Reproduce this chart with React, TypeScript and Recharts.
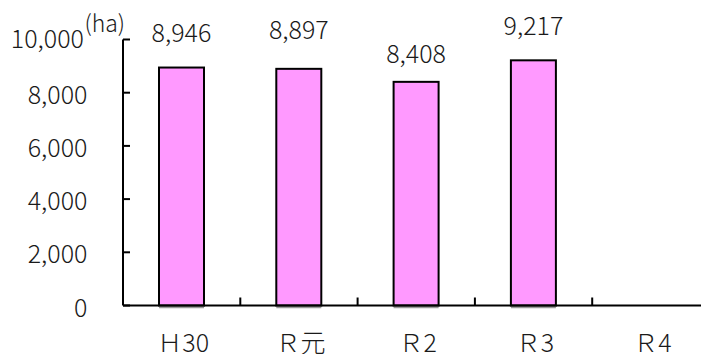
import React from "react";
import { BarChart, Bar, XAxis, YAxis, LabelList } from "recharts";

// Fiscal years (Heisei 30, Reiwa 1–4)
const years = ["Ｈ30", "Ｒ元", "Ｒ2", "Ｒ3", "Ｒ4"];
// Planted area in hectares (R4 not yet reported)
const area: (number | null)[] = [8946, 8897, 8408, 9217, null];
// Value axis ticks
const yTicks = [0, 2000, 4000, 6000, 8000, 10000];
const unitLabel = "(ha)";

// Layout
const CHART_W = 710;
const CHART_H = 354;
const Y_AXIS_W = 123;
const PLOT_TOP = 39.5;
const X_AXIS_H = 48.5;
const RIGHT = 0.5;
const BAND = (CHART_W - Y_AXIS_W - RIGHT) / years.length;
// how far each value label sits above its bar (label baseline to bar top)
const labelLift = [25.5, 30, 18.5, 25.5, 25.5];

const FONT = "'Noto Sans CJK JP', 'Noto Sans', sans-serif";
const TEXT = "#1a1a1a";
const FS = 25;

const data = years.map((year, i) => ({ year, area: area[i] }));

const fmt = (v: number) => v.toLocaleString("en-US");

const YTick = (props: any) => {
  const { y, payload } = props;
  const v = payload.value as number;
  const isTop = v === yTicks[yTicks.length - 1];
  const axisX = Y_AXIS_W;
  return (
    <g>
      <line x1={axisX} x2={axisX + 7} y1={y} y2={y} stroke="#000" strokeWidth={2} />
      <text
        x={isTop ? 84 : 87.5}
        y={isTop ? y - 3 : y}
        textAnchor="end"
        dominantBaseline="central"
        fontFamily={FONT}
        fontSize={FS}
        fontWeight={300}
        fill={TEXT}
      >
        {fmt(v)}
      </text>
      {isTop && (
        <text x={84.5} y={32} fontFamily={FONT} fontSize={23} fontWeight={300} fill={TEXT}>
          {unitLabel}
        </text>
      )}
    </g>
  );
};

const XTick = (props: any) => {
  const { x, payload } = props;
  const axisY = CHART_H - X_AXIS_H;
  const edge = x + BAND / 2;
  return (
    <g>
      <line x1={edge} x2={edge} y1={axisY} y2={axisY - 8} stroke="#000" strokeWidth={2} />
      <text
        x={x + 1.5}
        y={axisY + 46.5}
        textAnchor="middle"
        fontFamily={FONT}
        fontSize={FS}
        fontWeight={300}
        fill={TEXT}
      >
        {payload.value}
      </text>
    </g>
  );
};

const BarShape = (props: any) => {
  const { x, y, width, height } = props;
  if (!height || height <= 0) return null;
  return (
    <g>
      <line x1={x} x2={x + width} y1={y + height + 2} y2={y + height + 2} stroke="#9a9a9a" strokeWidth={1.5} />
      <rect x={x} y={y} width={width} height={height} fill="#FF99FF" stroke="#000" strokeWidth={2} />
    </g>
  );
};

const ValueLabel = (props: any) => {
  const { x, y, width, value, index } = props;
  if (value == null) return null;
  return (
    <text
      x={x + width / 2}
      y={y - labelLift[index]}
      textAnchor="middle"
      fontFamily={FONT}
      fontSize={FS}
      fontWeight={300}
      fill={TEXT}
    >
      {fmt(value)}
    </text>
  );
};

export default function App() {
  return (
    <div
      style={{
        position: "absolute",
        left: 0,
        top: 0,
        width: 701,
        height: 354,
        overflow: "hidden",
        background: "#fff",
      }}
    >
      <BarChart
        width={CHART_W}
        height={CHART_H}
        data={data}
        margin={{ top: PLOT_TOP, right: RIGHT, bottom: 0, left: 0 }}
      >
        <XAxis
          dataKey="year"
          height={X_AXIS_H}
          axisLine={{ stroke: "#000", strokeWidth: 2 }}
          tickLine={false}
          tick={<XTick />}
          interval={0}
        />
        <YAxis
          width={Y_AXIS_W}
          domain={[0, 10000]}
          ticks={yTicks}
          interval={0}
          axisLine={{ stroke: "#000", strokeWidth: 2 }}
          tickLine={false}
          tick={<YTick />}
        />
        <Bar dataKey="area" barSize={45} shape={<BarShape />} isAnimationActive={false}>
          <LabelList dataKey="area" content={<ValueLabel />} />
        </Bar>
      </BarChart>
    </div>
  );
}
